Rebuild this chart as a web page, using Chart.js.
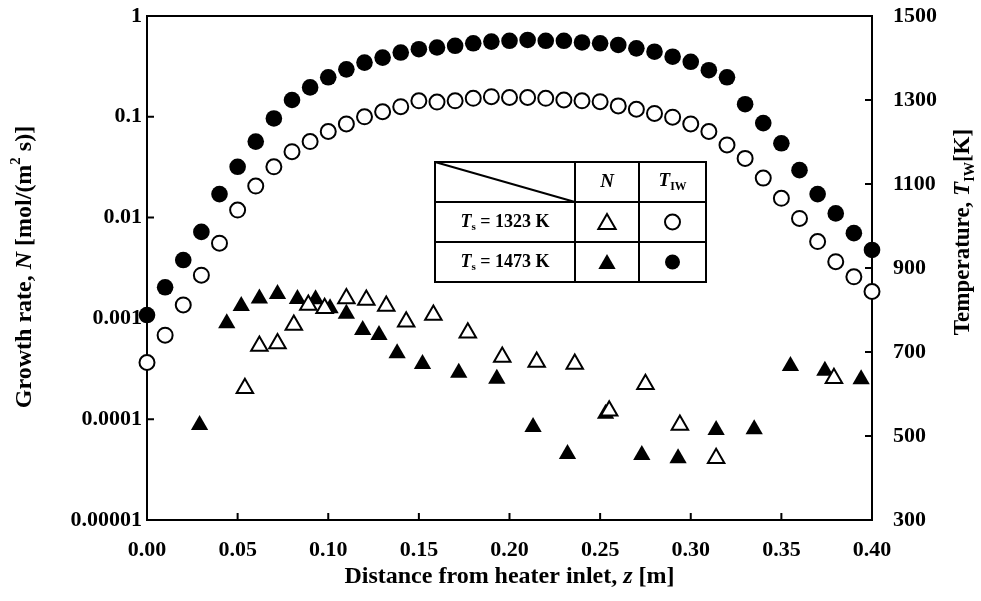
<!DOCTYPE html>
<html><head><meta charset="utf-8">
<script src="https://cdn.jsdelivr.net/npm/chart.js@4"></script>
<style>html,body{margin:0;padding:0;background:#fff;}#wrap{width:981px;height:601px;}</style>
</head><body><div id="wrap"><canvas id="c" width="981" height="601"></canvas></div>
<script>
// ---- data ----
const zTemp = [0.00,0.01,0.02,0.03,0.04,0.05,0.06,0.07,0.08,0.09,0.10,0.11,0.12,0.13,0.14,0.15,0.16,0.17,0.18,0.19,0.20,
               0.21,0.22,0.23,0.24,0.25,0.26,0.27,0.28,0.29,0.30,0.31,0.32,0.33,0.34,0.35,0.36,0.37,0.38,0.39,0.40];
const tempLow = [675,740,812,883,959,1038,1095,1141,1177,1201,1225,1243,1260,1272,1284,1298,1295,1298,1304,1308,1306,
                 1306,1304,1300,1298,1296,1286,1278,1268,1259,1243,1225,1193,1161,1114,1066,1018,963,915,879,844];
const tempHigh = [788,854,919,986,1076,1141,1201,1256,1300,1330,1354,1373,1389,1401,1413,1421,1425,1429,1435,1439,1441,
                  1443,1441,1441,1437,1435,1431,1423,1415,1403,1391,1371,1354,1290,1245,1197,1133,1076,1030,983,943];
const zGrowthLow = [0.054,0.062,0.072,0.081,0.089,0.098,0.110,0.121,0.132,0.143,0.158,0.177,0.196,0.215,0.236,0.255,0.275,0.294,0.314,0.379];
const growthLow = [2.03e-4,5.32e-4,5.64e-4,8.60e-4,1.36e-3,1.26e-3,1.58e-3,1.52e-3,1.33e-3,9.27e-4,1.08e-3,7.21e-4,4.14e-4,3.69e-4,3.53e-4,1.21e-4,2.22e-4,8.75e-5,4.09e-5,2.55e-4];
const zGrowthHigh = [0.029,0.044,0.052,0.062,0.072,0.083,0.093,0.101,0.110,0.119,0.128,0.138,0.152,0.172,0.193,0.213,0.232,0.253,0.273,0.293,0.314,0.335,0.355,0.374,0.394];
const growthHigh = [8.75e-5,8.94e-4,1.33e-3,1.58e-3,1.75e-3,1.56e-3,1.55e-3,1.26e-3,1.11e-3,7.67e-4,6.84e-4,4.51e-4,3.53e-4,2.89e-4,2.52e-4,8.37e-5,4.52e-5,1.13e-4,4.41e-5,4.09e-5,7.82e-5,7.94e-5,3.37e-4,3.03e-4,2.49e-4];
const leftTickValues = [1e-5,1e-4,1e-3,1e-2,1e-1,1];
const leftTickLabels = ['0.00001','0.0001','0.001','0.01','0.1','1'];
const seriesLabels = ['Ts = 1323 K','Ts = 1473 K'];

const FONT = "'Liberation Serif','Times New Roman',serif";
const pts = (xs, ys) => xs.map((x,i)=>({x:x, y:ys[i]}));

function drawRich(ctx, segs, size, x, y, rot) {
  ctx.save(); ctx.translate(x, y); ctx.rotate(rot || 0);
  const parts = segs.map(s => {
    const sz = (s.sub || s.sup) ? size * 0.62 : size;
    const f = (s.italic ? 'italic ' : '') + 'bold ' + sz + 'px ' + FONT;
    ctx.font = f;
    return {t: s.t, f: f, w: ctx.measureText(s.t).width, dy: s.sub ? size * 0.3 : (s.sup ? -size * 0.35 : 0)};
  });
  const total = parts.reduce((a, p) => a + p.w, 0);
  let cx = -total / 2;
  ctx.textBaseline = 'middle'; ctx.textAlign = 'left'; ctx.fillStyle = '#000';
  for (const p of parts) { ctx.font = p.f; ctx.fillText(p.t, cx, p.dy); cx += p.w; }
  ctx.restore();
}
function tri(ctx, x, y, r, filled) {
  ctx.beginPath();
  for (let k = 0; k < 3; k++) {
    const a = k * 2 * Math.PI / 3;
    const px = x + Math.sin(a) * r, py = y - Math.cos(a) * r;
    if (k === 0) ctx.moveTo(px, py); else ctx.lineTo(px, py);
  }
  ctx.closePath();
  if (filled) { ctx.fillStyle = '#000'; ctx.fill(); } else { ctx.fillStyle = '#fff'; ctx.fill(); ctx.lineWidth = 2; ctx.strokeStyle = '#000'; ctx.stroke(); }
}
function circ(ctx, x, y, r, filled) {
  ctx.beginPath(); ctx.arc(x, y, r, 0, Math.PI * 2);
  if (filled) { ctx.fillStyle = '#000'; ctx.fill(); } else { ctx.fillStyle = '#fff'; ctx.fill(); ctx.lineWidth = 2; ctx.strokeStyle = '#000'; ctx.stroke(); }
}

const framePlugin = {
  id: 'frame',
  beforeDatasetsDraw(chart) {
    const ctx = chart.ctx, a = chart.chartArea;
    ctx.save();
    ctx.strokeStyle = '#000'; ctx.lineWidth = 2;
    ctx.strokeRect(a.left, a.top, a.right - a.left, a.bottom - a.top);
    const L = 7;
    ctx.beginPath();
    chart.scales.y.ticks.forEach(t => { const p = chart.scales.y.getPixelForValue(t.value); ctx.moveTo(a.left, p); ctx.lineTo(a.left + L, p); });
    chart.scales.y2.ticks.forEach(t => { const p = chart.scales.y2.getPixelForValue(t.value); ctx.moveTo(a.right, p); ctx.lineTo(a.right - L, p); });
    chart.scales.x.ticks.forEach(t => { const p = chart.scales.x.getPixelForValue(t.value); ctx.moveTo(p, a.bottom); ctx.lineTo(p, a.bottom - L); });
    ctx.stroke();
    ctx.restore();
  },
  afterDraw(chart) {
    const ctx = chart.ctx, a = chart.chartArea;
    // axis titles
    drawRich(ctx, [{t:'Growth rate, '},{t:'N',italic:true},{t:' [mol/(m'},{t:'2',sup:true},{t:' s)]'}], 24, 25, 267, -Math.PI/2);
    drawRich(ctx, [{t:'Temperature, '},{t:'T',italic:true},{t:'IW',sub:true},{t:'[K]'}], 23, 963, 232, -Math.PI/2);
    drawRich(ctx, [{t:'Distance from heater inlet, '},{t:'z',italic:true},{t:' [m]'}], 24, (a.left + a.right)/2, 577, 0);
    // table legend
    const x0 = 435, x1 = 575, x2 = 639, x3 = 706, y0 = 162, y1 = 202, y2 = 242, y3 = 282;
    ctx.save();
    ctx.fillStyle = '#fff'; ctx.fillRect(x0, y0, x3 - x0, y3 - y0);
    ctx.strokeStyle = '#000'; ctx.lineWidth = 2;
    ctx.strokeRect(x0, y0, x3 - x0, y3 - y0);
    ctx.beginPath();
    ctx.moveTo(x1, y0); ctx.lineTo(x1, y3);
    ctx.moveTo(x2, y0); ctx.lineTo(x2, y3);
    ctx.moveTo(x0, y1); ctx.lineTo(x3, y1);
    ctx.moveTo(x0, y2); ctx.lineTo(x3, y2);
    ctx.moveTo(x0, y0); ctx.lineTo(x1, y1);
    ctx.stroke();
    ctx.restore();
    drawRich(ctx, [{t:'N',italic:true}], 19, (x1 + x2)/2, (y0 + y1)/2, 0);
    drawRich(ctx, [{t:'T',italic:true},{t:'IW',sub:true}], 19, (x2 + x3)/2, (y0 + y1)/2 - 1, 0);
    seriesLabels.forEach((lab, i) => {
      const m = lab.match(/^T(s)(.*)$/);
      const yc = i === 0 ? (y1 + y2)/2 : (y2 + y3)/2;
      drawRich(ctx, [{t:'T',italic:true},{t:m[1],sub:true},{t:m[2]}], 18, (x0 + x1)/2, yc, 0);
      tri(ctx, (x1 + x2)/2, yc + 2, 10, i === 1);
      circ(ctx, (x2 + x3)/2, yc, 7.5, i === 1);
    });
  }
};

const tickFont = {family: FONT, size: 22, weight: 'bold'};
const noPad = s => { s.paddingTop = 0; s.paddingBottom = 0; s.paddingLeft = 0; s.paddingRight = 0; };
new Chart(document.getElementById('c'), {
  type: 'scatter',
  data: {
    datasets: [
      {label: 'N, Ts = 1323 K', data: pts(zGrowthLow, growthLow), yAxisID: 'y', pointStyle: 'triangle', pointRadius: 9.5,
       backgroundColor: '#fff', borderColor: '#000', borderWidth: 2, clip: false},
      {label: 'N, Ts = 1473 K', data: pts(zGrowthHigh, growthHigh), yAxisID: 'y', pointStyle: 'triangle', pointRadius: 10,
       backgroundColor: '#000', borderColor: '#000', borderWidth: 0, clip: false},
      {label: 'TIW, Ts = 1323 K', data: pts(zTemp, tempLow), yAxisID: 'y2', pointStyle: 'circle', pointRadius: 7.5,
       backgroundColor: '#fff', borderColor: '#000', borderWidth: 2, clip: false},
      {label: 'TIW, Ts = 1473 K', data: pts(zTemp, tempHigh), yAxisID: 'y2', pointStyle: 'circle', pointRadius: 8.3,
       backgroundColor: '#000', borderColor: '#000', borderWidth: 0, clip: false}
    ]
  },
  options: {
    responsive: false, animation: false, devicePixelRatio: 1,
    layout: {padding: {top: 16, left: 0, right: 0, bottom: 0}},
    plugins: {legend: {display: false}, tooltip: {enabled: false}},
    scales: {
      x: {type: 'linear', position: 'bottom', min: 0, max: 0.4,
          grid: {display: false, drawTicks: false}, border: {display: false},
          ticks: {stepSize: 0.05, autoSkip: false, maxRotation: 0, padding: 17, color: '#000', font: tickFont,
                  callback: v => Number(v).toFixed(2)},
          afterFit: s => { s.height = 81; noPad(s); }},
      y: {type: 'logarithmic', position: 'left', min: 1e-5, max: 1,
          grid: {display: false, drawTicks: false}, border: {display: false},
          afterBuildTicks: s => { s.ticks = leftTickValues.map(v => ({value: v})); },
          ticks: {padding: 5, color: '#000', font: tickFont, autoSkip: false,
                  callback: v => leftTickLabels[leftTickValues.indexOf(v)]},
          afterFit: s => { s.width = 147; noPad(s); }},
      y2: {type: 'linear', position: 'right', min: 300, max: 1500,
          grid: {display: false, drawTicks: false}, border: {display: false},
          ticks: {stepSize: 200, padding: 21, color: '#000', font: tickFont, callback: v => String(v)},
          afterFit: s => { s.width = 109; noPad(s); }}
    }
  },
  plugins: [framePlugin]
});
</script></body></html>
